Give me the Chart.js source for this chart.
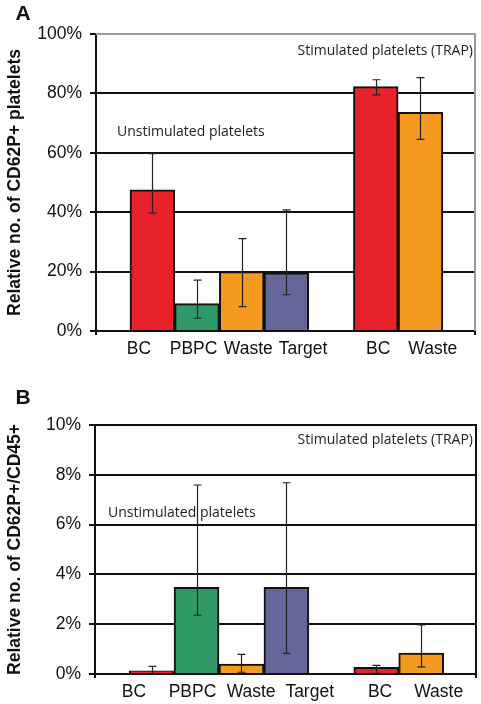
<!DOCTYPE html>
<html>
<head>
<meta charset="utf-8">
<script src="https://cdn.jsdelivr.net/npm/chart.js@4/dist/chart.umd.min.js"></script>
<style>
body{margin:0;background:#fff;width:481px;height:704px;position:relative;overflow:hidden}
.panel{position:absolute;left:0;width:481px}
#wrapA{top:0;height:365px}
#wrapB{top:360px;height:344px}
</style>
</head>
<body>
<div class="panel" id="wrapA"><canvas id="chartA" width="481" height="365"></canvas></div>
<div class="panel" id="wrapB"><canvas id="chartB" width="481" height="344"></canvas></div>
<script>
// one slot per bar, '' = empty slot between the two groups
const categories = ['BC', 'PBPC', 'Waste', 'Target', '', 'BC', 'Waste'];
const barColors = ['#e8222a', '#2f9a68', '#f5991f', '#65679b', null, '#e8222a', '#f5991f'];

// panel A: % CD62P+ platelets
const valuesA  = [47.5, 9.2, 20.0, 19.6, null, 82.3, 73.6];
const errLowA  = [39.7, 4.3, 8.2, 12.2, null, 79.5, 64.5];
const errHighA = [59.7, 17.1, 31.1, 40.8, null, 84.6, 85.3];

// panel B: % CD62P+/CD45+
const valuesB  = [0.13, 3.48, 0.40, 3.48, null, 0.27, 0.84];
const errLowB  = [0.0, 2.36, 0.07, 0.83, null, 0.03, 0.29];
const errHighB = [0.31, 7.59, 0.79, 7.68, null, 0.35, 1.97];

const ink = '#111';
const sans = '"Liberation Sans", Arial, sans-serif';
const gap = categories.indexOf('');

// label-only axis for one group of bars (labels in the original are spread wider than the bars),
// anchored at y = 0 so both groups share the same line
function labelAxis(range, group){
  return {
    type: 'linear', position: {y: 0}, min: range[0], max: range[1],
    offset: false,
    grid: {display: false, drawTicks: false},
    border: {display: false},
    afterBuildTicks: s => {
      s.ticks = categories.map((c, i) => ({value: i}))
        .filter(t => categories[t.value] && (group === 0 ? t.value < gap : t.value > gap));
    },
    ticks: {
      autoSkip: false, maxRotation: 0, padding: 8, color: ink,
      font: {family: sans, size: 17.5},
      callback: v => categories[v]
    }
  };
}

function makeChart(id, o){
  const pts = [], cols = [];
  categories.forEach((c, i) => {
    if(c && o.values[i] != null){ pts.push({x: i, y: o.values[i]}); cols.push(barColors[i]); }
  });

  const extras = {
    id: 'extras',
    beforeDatasetsDraw(chart){
      const {ctx, chartArea: a} = chart;
      ctx.save();
      ctx.strokeStyle = o.frameColor; ctx.lineWidth = 2;
      ctx.beginPath();
      ctx.moveTo(a.left, a.top); ctx.lineTo(a.right, a.top); ctx.lineTo(a.right, a.bottom);
      ctx.stroke();
      // small end ticks under the category axis
      ctx.strokeStyle = ink;
      ctx.beginPath();
      ctx.moveTo(a.left, a.bottom); ctx.lineTo(a.left, a.bottom + 4);
      ctx.moveTo(a.right, a.bottom); ctx.lineTo(a.right, a.bottom + 4);
      ctx.stroke();
      ctx.restore();
    },
    afterDatasetsDraw(chart){
      const {ctx, scales:{x, y}} = chart;
      ctx.save();
      ctx.strokeStyle = '#222'; ctx.lineWidth = 1.2;
      categories.forEach((c, i) => {
        if(!c || o.values[i] == null) return;
        const px = Math.round(x.getPixelForValue(i)) + 0.5;
        const y1 = y.getPixelForValue(o.errLow[i]), y2 = y.getPixelForValue(o.errHigh[i]);
        ctx.beginPath();
        ctx.moveTo(px, y1); ctx.lineTo(px, y2);
        ctx.moveTo(px - 4, y1); ctx.lineTo(px + 4, y1);
        ctx.moveTo(px - 4, y2); ctx.lineTo(px + 4, y2);
        ctx.stroke();
      });
      ctx.restore();
    },
    afterDraw(chart){
      const {ctx} = chart;
      ctx.save();
      ctx.fillStyle = ink;
      ctx.font = 'bold 21px ' + sans;
      ctx.textAlign = 'center'; ctx.textBaseline = 'middle';
      ctx.fillText(o.letter, o.letterPos[0], o.letterPos[1]);
      ctx.fillStyle = '#222';
      ctx.font = '14px "Open Sans", sans-serif';
      o.notes.forEach(n => {
        ctx.textAlign = n.align;
        ctx.fillText(n.text, n.x, n.y);
      });
      ctx.restore();
    }
  };

  return new Chart(document.getElementById(id), {
    type: 'bar',
    data: {
      datasets: [{
        data: pts,
        backgroundColor: cols,
        borderColor: ink,
        borderWidth: 2,
        categoryPercentage: 1,
        barPercentage: 1
      }]
    },
    options: {
      responsive: false,
      animation: false,
      layout: {padding: {top: o.padTop, right: o.padRight, left: 0, bottom: o.padBottom}},
      plugins: {legend: {display: false}, tooltip: {enabled: false}},
      scales: {
        x: {
          type: 'linear',
          min: -1.26, max: 7.22,
          offset: false,
          grid: {display: false, drawTicks: false, offset: false},
          border: {display: true, color: ink, width: 2},
          afterBuildTicks: s => { s.ticks = categories.map((c, i) => ({value: i})).filter(t => categories[t.value]); },
          afterFit: s => { s.height = 0; },
          ticks: {display: false}
        },
        xl1: labelAxis(o.labelRange1, 0),
        xl2: labelAxis(o.labelRange2, 1),
        y: {
          min: 0, max: o.max,
          afterFit: s => { s.width = o.yWidth; },
          grid: {
            color: c => c.tick && c.tick.value === o.max ? o.frameColor : ink,
            lineWidth: 2, tickColor: ink, tickLength: 6
          },
          border: {display: true, color: ink, width: 2},
          ticks: {
            stepSize: o.step, padding: 8, color: ink,
            font: {family: sans, size: 17.5},
            callback: v => v + '%'
          },
          title: {
            display: true, text: o.yTitle, color: ink,
            font: {family: sans, size: 17.5, weight: 'bold'},
            padding: {top: 5, bottom: 2}
          }
        }
      }
    },
    plugins: [extras]
  });
}

makeChart('chartA', {
  values: valuesA, errLow: errLowA, errHigh: errHighA,
  max: 100, step: 20, yTitle: 'Relative no. of CD62P+ platelets',
  padTop: 34, padRight: 6, padBottom: 34, yWidth: 96,
  labelRange1: [-0.784, 6.145], labelRange2: [-0.158, 6.771],
  frameColor: '#999', letter: 'A', letterPos: [23, 14],
  notes: [
    {text: 'Stimulated platelets (TRAP)', x: 473, y: 51, align: 'right'},
    {text: 'Unstimulated platelets', x: 117, y: 132, align: 'left'}
  ]
});

makeChart('chartB', {
  values: valuesB, errLow: errLowB, errHigh: errHighB,
  max: 10, step: 2, yTitle: 'Relative no. of CD62P+/CD45+',
  padTop: 65, padRight: 5, padBottom: 30, yWidth: 95,
  labelRange1: [-0.664, 5.838], labelRange2: [0.135, 6.637],
  frameColor: ink, letter: 'B', letterPos: [23, 38],
  notes: [
    {text: 'Stimulated platelets (TRAP)', x: 473, y: 80, align: 'right'},
    {text: 'Unstimulated platelets', x: 108, y: 153, align: 'left'}
  ]
});
</script>
</body>
</html>
